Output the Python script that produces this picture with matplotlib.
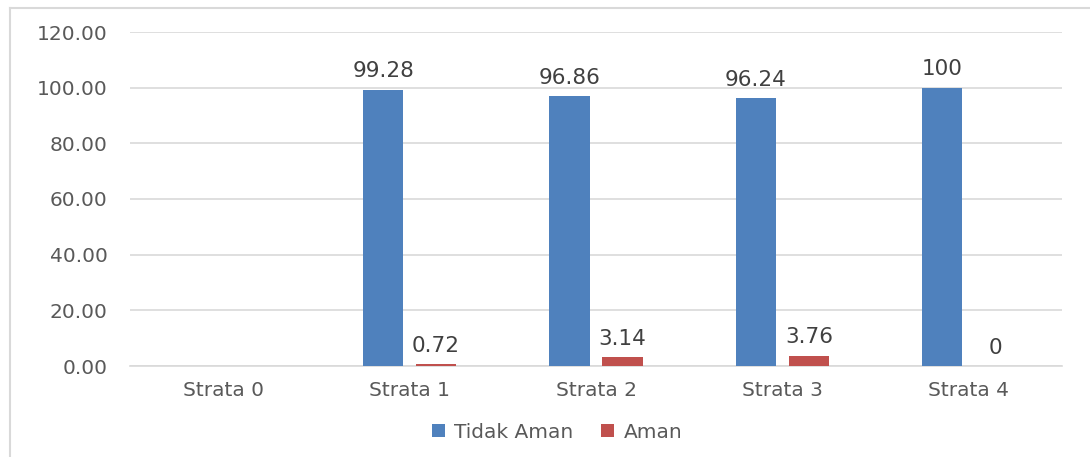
import matplotlib
matplotlib.use("Agg")
import matplotlib.pyplot as plt
from matplotlib.lines import Line2D
import numpy as np

plt.rcParams["font.family"] = ["DejaVu Sans"]

categories = ["Strata 0", "Strata 1", "Strata 2", "Strata 3", "Strata 4"]
tidak_aman = [None, 99.28, 96.86, 96.24, 100]
aman = [None, 0.72, 3.14, 3.76, 0]
tidak_labels = ["", "99.28", "96.86", "96.24", "100"]
aman_labels = ["", "0.72", "3.14", "3.76", "0"]
yticks = [0, 20, 40, 60, 80, 100, 120]

blue = "#4F81BD"
red = "#C0504D"
txt = "#595959"

W, H = 1090, 457
fig = plt.figure(figsize=(W / 100, H / 100), dpi=100)
ax = fig.add_axes([130 / W, 1 - 366 / H, (1062 - 130) / W, (366 - 32) / H])

x = np.arange(len(categories))
bw = 0.215
off = 0.142
tv = [np.nan if v is None else v for v in tidak_aman]
av = [np.nan if v is None else v for v in aman]
ax.bar(x - off, tv, bw, color=blue, label="Tidak Aman", zorder=3)
ax.bar(x + off, av, bw, color=red, label="Aman", zorder=3)

for i in range(len(categories)):
    if tidak_labels[i]:
        ax.text(x[i] - off, tv[i] + 3.0, tidak_labels[i], ha="center", va="bottom",
                fontsize=15.5, color="#404040")
    if aman_labels[i]:
        ax.text(x[i] + off, av[i] + 3.0, aman_labels[i], ha="center", va="bottom",
                fontsize=15.5, color="#404040")

ax.set_xlim(-0.5, len(categories) - 0.5)
ax.set_ylim(0, 120)
ax.set_yticks(yticks)
ax.set_yticklabels([f"{v:.2f}" for v in yticks])
ax.set_xticks(x)
ax.set_xticklabels(categories)
ax.tick_params(axis="both", length=0, labelsize=14.5, colors=txt)
ax.tick_params(axis="y", pad=16)
ax.tick_params(axis="x", pad=11)
ax.yaxis.grid(True, color="#D9D9D9", linewidth=1.2, zorder=0)
for s in ["top", "right", "left"]:
    ax.spines[s].set_visible(False)
ax.spines["bottom"].set_color("#D9D9D9")
ax.spines["bottom"].set_linewidth(1.2)

leg = fig.legend(loc="center", bbox_to_anchor=(557 / W, 1 - 432 / H), ncol=2,
                 frameon=False, fontsize=14.5, handlelength=0.65, handleheight=0.65,
                 handletextpad=0.45, columnspacing=1.4)
for t in leg.get_texts():
    t.set_color(txt)

fig.add_artist(Line2D([10 / W, 10 / W], [0, 1 - 8 / H], transform=fig.transFigure,
                      color="#D9D9D9", linewidth=1.5))
fig.add_artist(Line2D([10 / W, 1], [1 - 8 / H, 1 - 8 / H], transform=fig.transFigure,
                      color="#D9D9D9", linewidth=1.5))

fig.savefig("out.png", dpi=100)
